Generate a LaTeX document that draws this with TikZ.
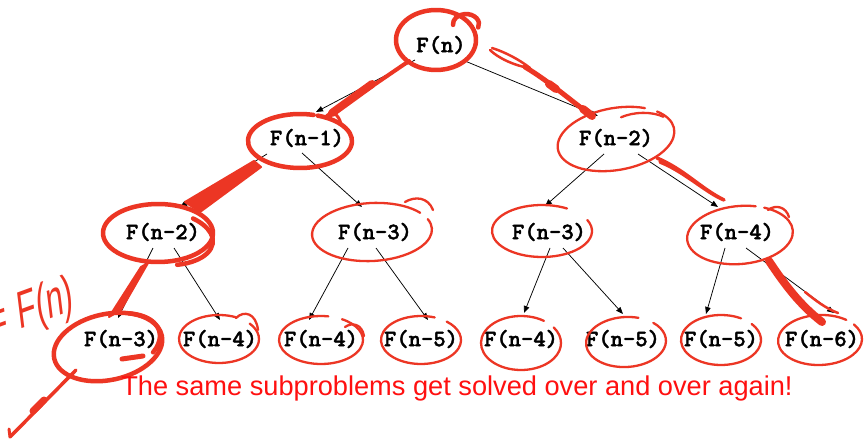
\documentclass[tikz,border=0pt]{standalone}
\usepackage{fontspec}
\setmainfont{Liberation Sans}
\newfontfamily\monof{lmmonolt10-bold.otf}[FakeBold=1.6]
\usetikzlibrary{arrows.meta}
\definecolor{ink}{RGB}{236,54,36}
\definecolor{txtred}{RGB}{255,16,16}
\newcommand{\skarc}[8]{\draw[#1, rotate around={#6:(#2,#3)}] (#2,#3) ++(#7:#4pt and #5pt) arc[start angle=#7, end angle=#8, x radius=#4pt, y radius=#5pt];}
\begin{document}
\begin{tikzpicture}[x=1pt,y=-1pt,
  fn/.style={font=\monof\fontsize{23.5}{23.5}\selectfont, inner sep=0pt, text=black},
  edge/.style={draw=black, line width=0.75pt, -{Triangle[length=7pt,width=5.5pt]}},
  inkthin/.style={draw=ink, line width=2.3pt, line cap=round, line join=round},
  inkthick/.style={draw=ink, line width=4.5pt, line cap=round, line join=round},
  inkfill/.style={fill=ink, draw=ink, line width=2pt, line join=round},
  msg/.style={font=\fontsize{27.2}{27.2}\selectfont, text=txtred, inner sep=0pt},
  hand/.style={font=\fontsize{44}{44}\selectfont, text=ink, inner sep=0pt}
]
\useasboundingbox (0,0) rectangle (866,441);
\fill[white] (0,0) rectangle (866,441);

% ---------- tree nodes ----------
\node[fn] (n0)  at (441,45)  {F(n)};
\node[fn] (n1)  at (307,138) {F(n-1)};
\node[fn] (n2)  at (616,138) {F(n-2)};
\node[fn] (n11) at (163,232) {F(n-2)};
\node[fn] (n12) at (375,232) {F(n-3)};
\node[fn] (n21) at (549,232) {F(n-3)};
\node[fn] (n22) at (737,232) {F(n-4)};
\node[fn] (a) at (121,339) {F(n-3)};
\node[fn] (b) at (220,339) {F(n-4)};
\node[fn] (c) at (321,339) {F(n-4)};
\node[fn] (d) at (421,339) {F(n-5)};
\node[fn] (e) at (521,339) {F(n-4)};
\node[fn] (f) at (623,339) {F(n-5)};
\node[fn] (g) at (721,339) {F(n-5)};
\node[fn] (h) at (822,339) {F(n-6)};

% ---------- connectors ----------
\draw[edge] ([shift={(-26,15)}]n0.center) -- ([shift={(9,-26)}]n1.center);
\draw[edge] ([shift={(24,16)}]n0.center) -- ([shift={(-18,-22)}]n2.center);
\draw[edge] ([shift={(-40,16)}]n1.center) -- ([shift={(17,-25)}]n11.center);
\draw[edge] ([shift={(-5,15)}]n1.center) -- ([shift={(-13,-25)}]n12.center);
\draw[edge] ([shift={(-12,16)}]n2.center) -- ([shift={(-4,-26)}]n21.center);
\draw[edge] ([shift={(22,16)}]n2.center) -- ([shift={(-19,-25)}]n22.center);
\draw[edge] ([shift={(-10,16)}]n11.center) -- ([shift={(-3,-21)}]a.center);
\draw[edge] ([shift={(11,16)}]n11.center) -- ([shift={(0,-19)}]b.center);
\draw[edge] ([shift={(-27,16)}]n12.center) -- ([shift={(-12,-19)}]c.center);
\draw[edge] ([shift={(1,16)}]n12.center) -- ([shift={(7,-19)}]d.center);
\draw[edge] ([shift={(1,16)}]n21.center) -- ([shift={(3,-26)}]e.center);
\draw[edge] ([shift={(14,16)}]n21.center) -- ([shift={(0,-25)}]f.center);
\draw[edge] ([shift={(-12,16)}]n22.center) -- ([shift={(-15,-25)}]g.center);
\draw[edge] ([shift={(9,16)}]n22.center) -- ([shift={(12,-26)}]h.center);

% ---------- red hand annotations: loops ----------
\skarc{inkthick}{436}{40}{40}{30}{0}{110}{470}
\skarc{inkthick}{466}{24}{13}{10}{0}{185}{-20}
\skarc{inkthick}{300}{141}{52}{27}{0}{75}{430}
\skarc{inkthin}{616}{139}{59}{31}{10}{55}{400}
\skarc{inkthin}{640}{133}{35}{20}{5}{120}{45}
\skarc{inkthick}{158}{233}{55}{29}{0}{60}{420}
\skarc{inkthick}{162}{238}{51}{27}{-5}{-70}{55}
\skarc{inkthin}{372}{232}{60}{29}{3}{35}{380}
\draw[inkthin] (405,202) .. controls (415,196) and (428,197) .. (433,210);
\skarc{inkthin}{542}{231}{50}{26}{0}{60}{385}
\skarc{inkthin}{740}{235}{53}{29}{5}{70}{420}
\draw[inkthin] (768,210) .. controls (776,204) and (786,207) .. (789,217);
% level 4
\skarc{inkthick}{108}{347}{55}{33}{12}{90}{460}
\skarc{inkthick}{112}{344}{49}{29}{15}{-40}{60}
\draw[ink, line width=5pt, line cap=round] (122,359) -- (143,356);
\skarc{inkthin}{219}{339}{40}{24}{0}{65}{400}
\draw[inkthin] (236,318) .. controls (244,310) and (256,313) .. (258,330);
\skarc{inkthin}{321}{340}{42}{24}{0}{80}{420}
\draw[inkthin] (345,327) .. controls (352,322) and (362,324) .. (364,336);
\skarc{inkthin}{421}{340}{40}{24}{0}{70}{410}
\skarc{inkthin}{521}{343}{40}{27}{0}{55}{395}
\skarc{inkthin}{626}{342}{40}{25}{3}{70}{405}
\skarc{inkthin}{721}{340}{40}{25}{0}{60}{400}
\skarc{inkthin}{820}{340}{42}{25}{2}{50}{395}

% ---------- red hand annotations: strokes ----------
\draw[ink, line width=4pt, line cap=round] (409,61) -- (327,117);
\draw[ink, line width=8pt, line cap=round] (372,84) -- (332,113);
\draw[ink, line width=3pt, line cap=round] (325,118) .. controls (330,110) and (338,112) .. (341,124);
\draw[ink, line width=2.5pt, line cap=round, line join=round] (492,48) .. controls (505,52) and (520,60) .. (530,68) .. controls (515,66) and (498,58) .. (490,50);
\draw[ink, line width=5pt, line cap=round] (525,67) .. controls (550,82) and (570,100) .. (592,116);
\draw[ink, line width=8pt, line cap=round] (549,84) -- (556,89);
\draw[ink, line width=8pt, line cap=round] (583,109) -- (592,116);
\path[inkfill] (254,161) -- (261,167) -- (200,212) -- (185,202) -- cycle;
\path[inkfill] (148,263) -- (141,267) -- (109,317) -- (121,310) -- cycle;
\draw[ink, line width=3.5pt, line cap=round] (76,370) -- (10,437);
\draw[ink, line width=7pt, line cap=round] (44,400) -- (33,411);
\draw[ink, line width=3pt, line cap=round] (10,437) -- (9,429);
\draw[ink, line width=3.5pt, line cap=round, line join=round] (657,158) .. controls (685,170) and (700,188) .. (724,200) .. controls (705,192) and (685,172) .. (660,162);
\draw[ink, line width=8pt, line cap=round] (769,261) .. controls (785,285) and (800,305) .. (822,322);
\draw[ink, line width=2.5pt, line cap=round] (805,292) .. controls (815,300) and (825,308) .. (838,313);

% ---------- texts ----------
\node[hand, xscale=0.7, yscale=1.2, rotate=12, anchor=base west] (hw) at (-9,340) {=\kern16pt F(n)};
\node[msg] (note) at (457,388) {The same subproblems get solved over and over again!};
\end{tikzpicture}
\end{document}
